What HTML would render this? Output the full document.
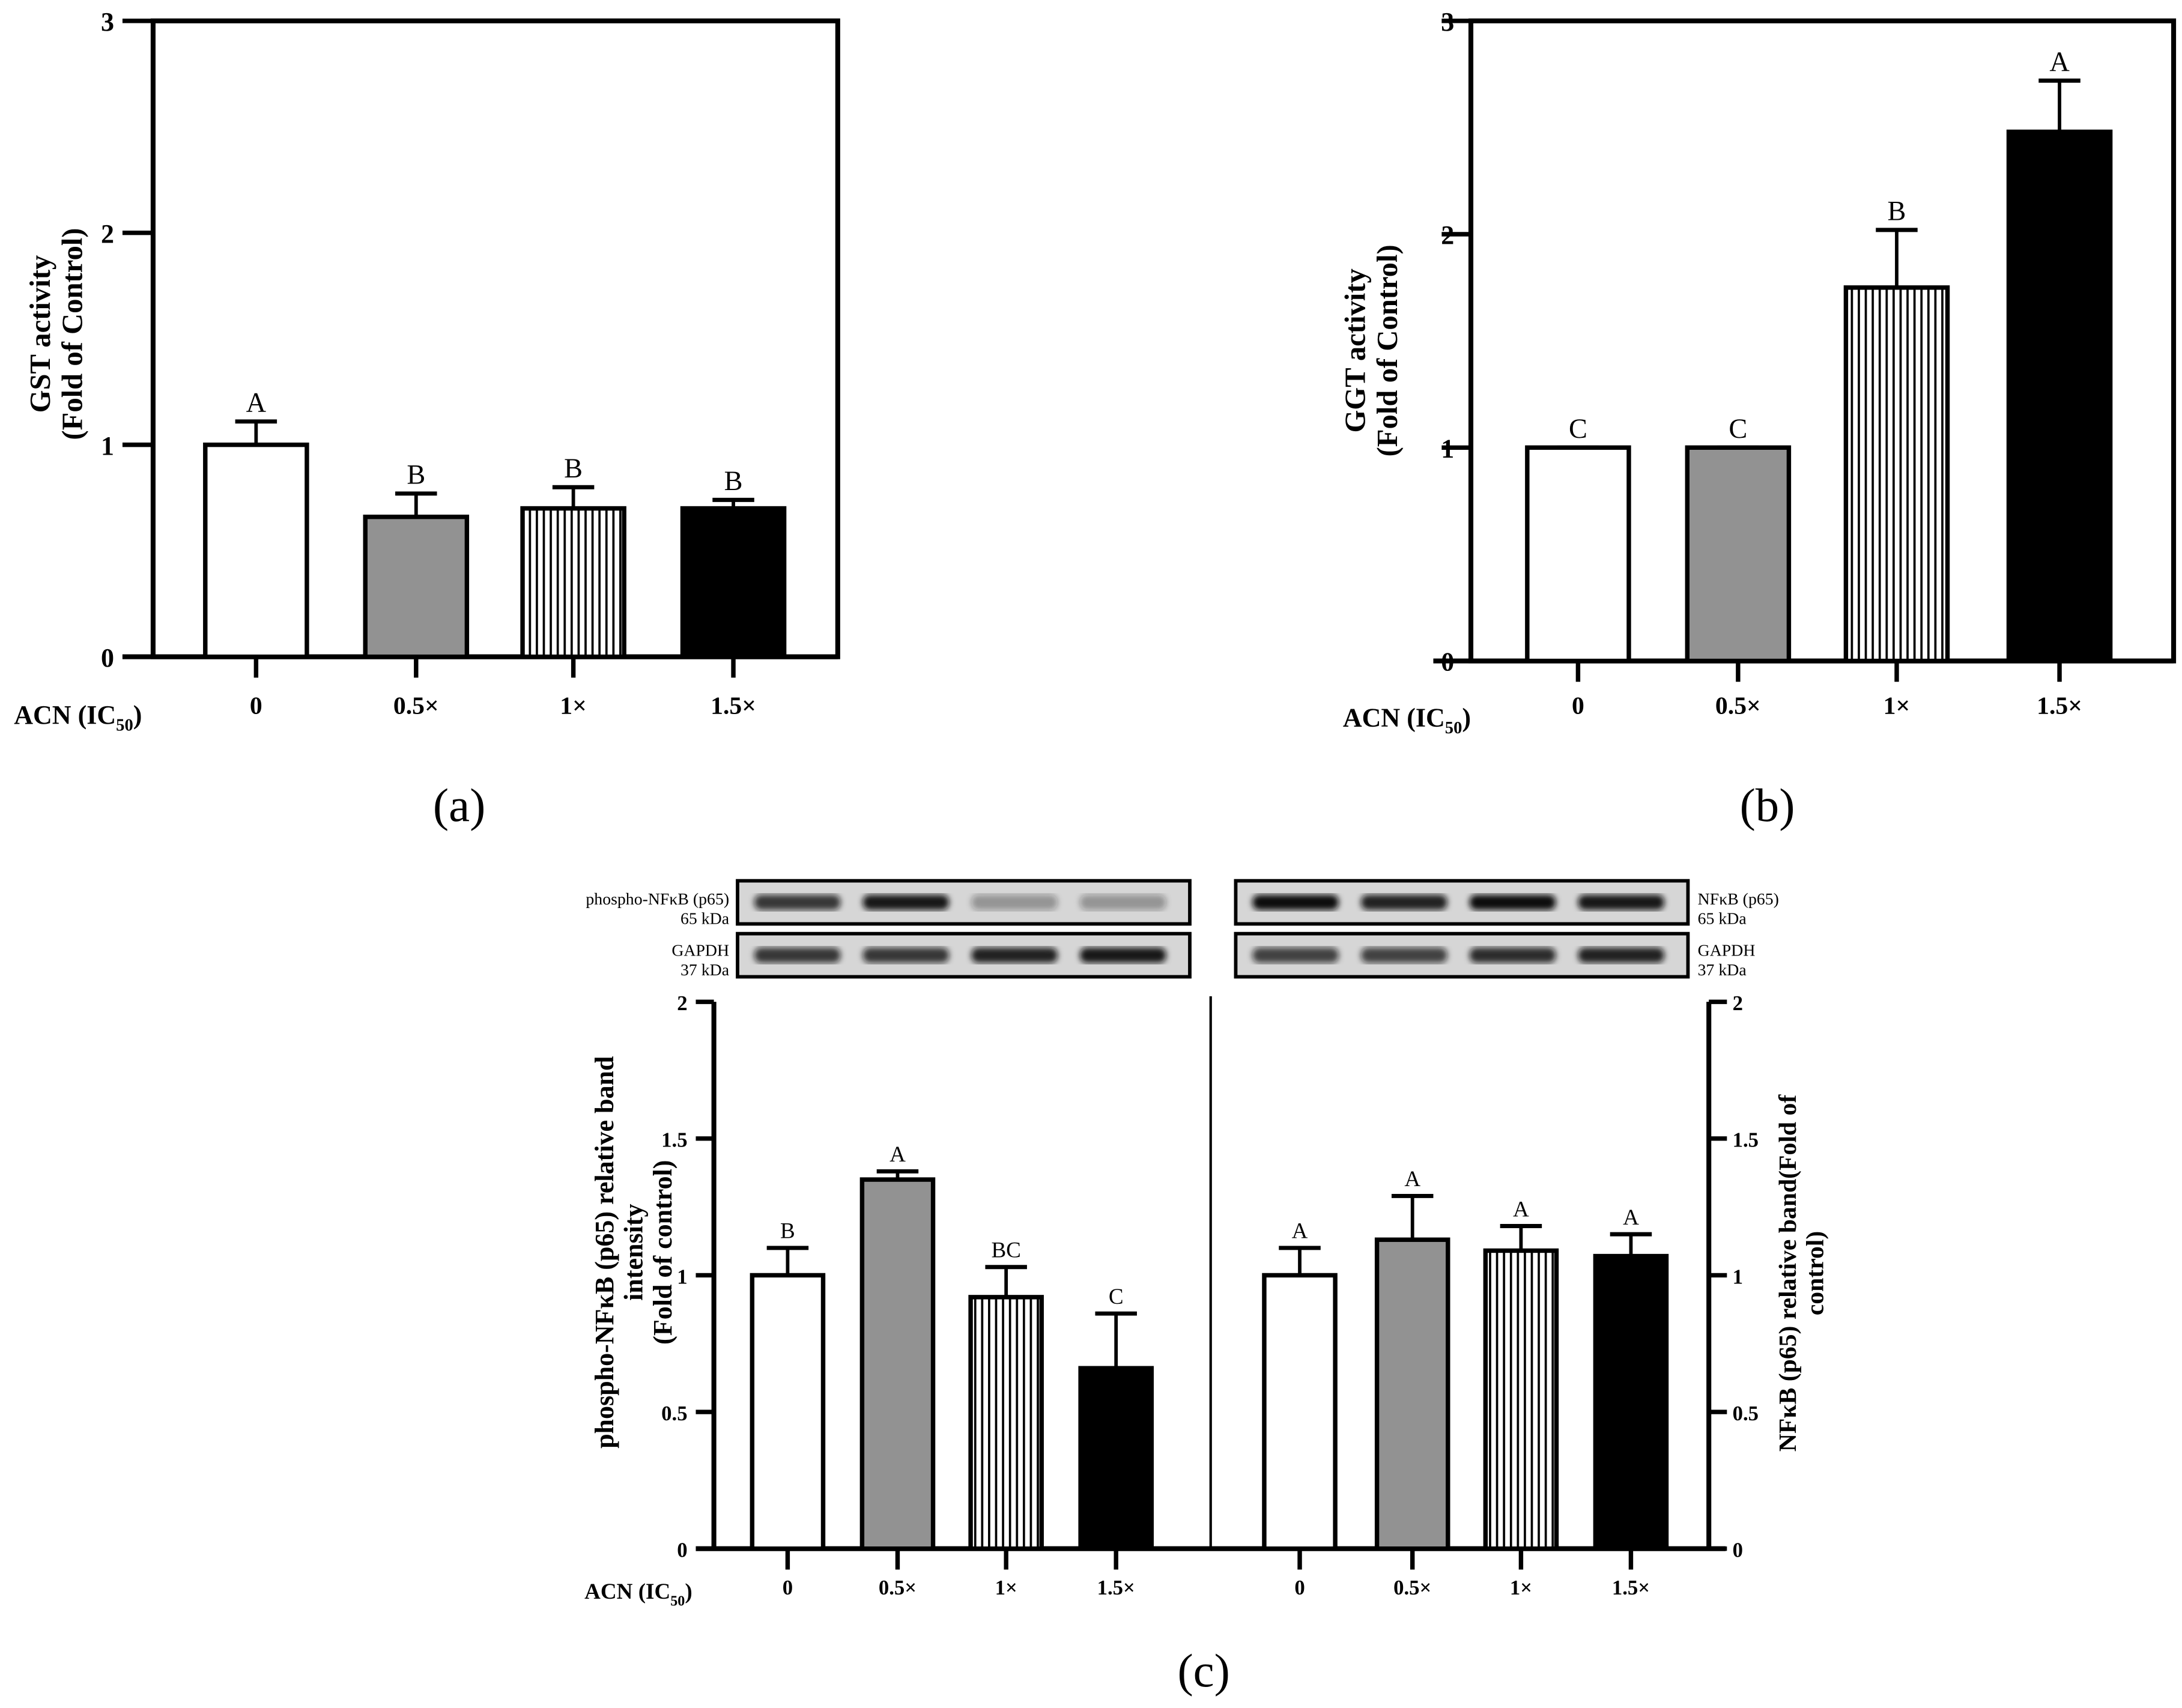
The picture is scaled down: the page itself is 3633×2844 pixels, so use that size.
<!DOCTYPE html>
<html><head><meta charset="utf-8"><style>
html,body{margin:0;padding:0;background:#fff}
svg{display:block}
text{font-family:"Liberation Serif",serif;fill:#000}
.b{font-weight:bold}
</style></head><body>
<svg id="fig" width="3633" height="2844" viewBox="0 0 1568 1227.5" xmlns="http://www.w3.org/2000/svg">
<defs>
<pattern id="hatch" patternUnits="userSpaceOnUse" width="5" height="10"><rect width="5" height="10" fill="#fff"/><rect x="0" width="1.6" height="10" fill="#000"/></pattern>
<filter id="blur"><feGaussianBlur stdDeviation="2.2"/></filter>
</defs>
<g id="root"></g>
</svg>
<script>
// Panel a data
const catsA = ["0","0.5×","1×","1.5×"];
const valsA = [1.0, 0.66, 0.70, 0.70];
const errA = [1.11, 0.77, 0.80, 0.74];
const letA = ["A","B","B","B"];
const ticksA = [0,1,2,3];
// Panel b data
const catsB = ["0","0.5×","1×","1.5×"];
const valsB = [1.0, 1.0, 1.75, 2.48];
const errB = [1.0, 1.0, 2.02, 2.72];
const letB = ["C","C","B","A"];
const ticksB = [0,1,2,3];
// Panel c data
const catsC = ["0","0.5×","1×","1.5×"];
const valsCL = [1.0, 1.35, 0.92, 0.66];
const errCL = [1.10, 1.38, 1.03, 0.86];
const letCL = ["B","A","BC","C"];
const valsCR = [1.0, 1.13, 1.09, 1.07];
const errCR = [1.10, 1.29, 1.18, 1.15];
const letCR = ["A","A","A","A"];
const ticksC = [0,0.5,1,1.5,2];
const tickLabC = ["0","0.5","1","1.5","2"];
const fills = ["#fff","#929292","url(#hatch)","#000"];

const NS="http://www.w3.org/2000/svg";
const root=document.getElementById('root');
function mk(tag,attrs,parent,txt){const e=document.createElementNS(NS,tag);for(const k in attrs)e.setAttribute(k,attrs[k]);if(txt!==undefined)e.textContent=txt;(parent||root).appendChild(e);return e;}
function scale(d0,d1,r0,r1){return v=>r0+(v-d0)/(d1-d0)*(r1-r0);}

function bars(g,cats,vals,errs,lets,xs,bw,y,name,lfs){
  vals.forEach((v,i)=>{
    const cx=xs[i];
    const top=y(v), base=y(0);
    const eb=mk('line',{x1:cx,x2:cx,y1:y(errs[i]),y2:top,stroke:'#000','stroke-width':2.5},g);
    
    
    const cap=mk('line',{x1:cx-15,x2:cx+15,y1:y(errs[i]),y2:y(errs[i]),stroke:'#000','stroke-width':3},g);
    
    
    const r=mk('rect',{x:cx-bw/2,y:top,width:bw,height:base-top,fill:fills[i],stroke:'#000','stroke-width':3.2},g);
    
    
    const t=mk('text',{x:cx,y:y(errs[i])-7,'text-anchor':'middle','font-size':lfs},g,lets[i]);
    
    
  });
}
function xlabels(g,cats,xs,y0,ly,name,fs){
  cats.forEach((c,i)=>{
    const tk=mk('line',{x1:xs[i],x2:xs[i],y1:y0,y2:y0+15,stroke:'#000','stroke-width':3.2},g);
    
    
    const t=mk('text',{x:xs[i],y:ly,'text-anchor':'middle','font-size':fs,class:'b'},g,c);
    
    
  });
}
function acn(g,x,y,fs){
  const t=mk('text',{x:x,y:y,'font-size':fs,class:'b'},g);
  
  
  t.innerHTML='ACN (IC<tspan font-size="'+(fs*0.65)+'" dy="5">50</tspan><tspan dy="-5">)</tspan>';
}
function ytitle(g,lines,cx,cy,fs,name){
  const t=mk('text',{transform:`translate(${cx},${cy}) rotate(-90)`,'text-anchor':'middle','font-size':fs,class:'b'},g);
  
  
  lines.forEach((l,i)=>{mk('tspan',{x:0,dy:i===0?-(lines.length-1)*fs*0.55+fs*0.35:fs*1.1},t,l);});
}

// ---------- Panel a ----------
(function(){
  const g=mk('g',{});
  
  
  const y=scale(0,3,472,15);
  const xs=[184,299,412,527];
  mk('rect',{x:110,y:15,width:492,height:457,fill:'none',stroke:'#000','stroke-width':3.5},g);
  mk('line',{x1:88,x2:602,y1:472,y2:472,stroke:'#000','stroke-width':3.5},g);
  ticksA.forEach(v=>{
    mk('line',{x1:88,x2:110,y1:y(v),y2:y(v),stroke:'#000','stroke-width':3.2},g);
    const t=mk('text',{x:82,y:y(v)+7,'text-anchor':'end','font-size':19,class:'b'},g,String(v));
    
    
  });
  bars(g,catsA,valsA,errA,letA,xs,73,y,'a',20);
  xlabels(g,catsA,xs,472,513,'a',18);
  acn(g,10,520,19);
  ytitle(g,["GST activity","(Fold of Control)"],40,240,21,'y-axis-title-a');
  const c=mk('text',{x:330,y:590,'text-anchor':'middle','font-size':34},g,'(a)');
  
})();

// ---------- Panel b ----------
(function(){
  const g=mk('g',{});
  
  
  const y=scale(0,3,475,15);
  const xs=[1134,1249,1363,1480];
  mk('rect',{x:1057,y:15,width:505,height:460,fill:'none',stroke:'#000','stroke-width':3.5},g);
  mk('line',{x1:1030,x2:1562,y1:475,y2:475,stroke:'#000','stroke-width':3.5},g);
  ticksB.forEach(v=>{
    mk('line',{x1:1036,x2:1057,y1:y(v),y2:y(v),stroke:'#000','stroke-width':3.2},g);
    const t=mk('text',{x:1045,y:y(v)+7,'text-anchor':'end','font-size':19,class:'b'},g,String(v));
    
    
  });
  bars(g,catsB,valsB,errB,letB,xs,73,y,'b',20);
  xlabels(g,catsB,xs,475,513,'b',18);
  acn(g,965,522,19);
  ytitle(g,["GGT activity","(Fold of Control)"],985,252,21,'y-axis-title-b');
  const c=mk('text',{x:1270,y:590,'text-anchor':'middle','font-size':34},g,'(b)');
  
})();

// ---------- Panel c ----------
(function(){
  const g=mk('g',{});
  
  
  const y=scale(0,2,1113,720);
  const xsL=[566,645,723,802], xsR=[934,1015,1093,1172];
  mk('line',{x1:513,x2:513,y1:720,y2:1113,stroke:'#000','stroke-width':3.5},g);
  mk('line',{x1:1228,x2:1228,y1:720,y2:1113,stroke:'#000','stroke-width':3.5},g);
  mk('line',{x1:500,x2:1240,y1:1113,y2:1113,stroke:'#000','stroke-width':3.5},g);
  mk('line',{x1:870,x2:870,y1:716,y2:1113,stroke:'#000','stroke-width':1.8},g);
  ticksC.forEach((v,i)=>{
    mk('line',{x1:500,x2:513,y1:y(v),y2:y(v),stroke:'#000','stroke-width':3.2},g);
    mk('line',{x1:1228,x2:1241,y1:y(v),y2:y(v),stroke:'#000','stroke-width':3.2},g);
    const t=mk('text',{x:494,y:y(v)+6,'text-anchor':'end','font-size':15,class:'b'},g,tickLabC[i]);
    
    
    const t2=mk('text',{x:1245,y:y(v)+6,'font-size':15,class:'b'},g,tickLabC[i]);
    
    
  });
  bars(g,catsC,valsCL,errCL,letCL,xsL,51,y,'c-left',16);
  bars(g,catsC,valsCR,errCR,letCR,xsR,51,y,'c-right',16);
  xlabels(g,catsC,xsL,1113,1146,'c-left',15);
  xlabels(g,catsC,xsR,1113,1146,'c-right',15);
  acn(g,420,1149,16);
  ytitle(g,["phospho-NFκB (p65) relative band","intensity","(Fold of control)"],455,900,19,'left-y-axis-title-c');
  ytitle(g,["NFκB (p65) relative band(Fold of","control)"],1294,915,18,'right-y-axis-title-c');
  const c=mk('text',{x:865,y:1212,'text-anchor':'middle','font-size':34},g,'(c)');
  

  // blots
  const bandL1=[0.8,0.95,0.35,0.35], bandL2=[0.8,0.8,0.9,0.95], bandR1=[1,0.9,1,0.95], bandR2=[0.75,0.75,0.85,0.9];
  function blot(x,yy,bands,name){
    const bg=mk('g',{},g);
    
    
    mk('rect',{x:x,y:yy,width:325,height:31,fill:'#d6d6d6'},bg);
    bands.forEach((a,i)=>{
      mk('rect',{x:x+12+i*78,y:yy+10,width:62,height:11,rx:5,fill:'#111','fill-opacity':a,filter:'url(#blur)'},bg);
    });
    mk('rect',{x:x,y:yy,width:325,height:31,fill:'none',stroke:'#000','stroke-width':2.5},bg);
  }
  blot(530,633,bandL1,'blot-phospho-nfkb');
  blot(530,671,bandL2,'blot-gapdh-left');
  blot(888,633,bandR1,'blot-nfkb');
  blot(888,671,bandR2,'blot-gapdh-right');
  const lab=[["phospho-NFκB (p65)",524,650,'end'],["65 kDa",524,664,'end'],["GAPDH",524,687,'end'],["37 kDa",524,701,'end'],
             ["NFκB (p65)",1220,650,'start'],["65 kDa",1220,664,'start'],["GAPDH",1220,687,'start'],["37 kDa",1220,701,'start']];
  lab.forEach(l=>{
    const t=mk('text',{x:l[1],y:l[2],'text-anchor':l[3],'font-size':12},g,l[0]);
    
    
  });
})();
</script>
</body></html>
